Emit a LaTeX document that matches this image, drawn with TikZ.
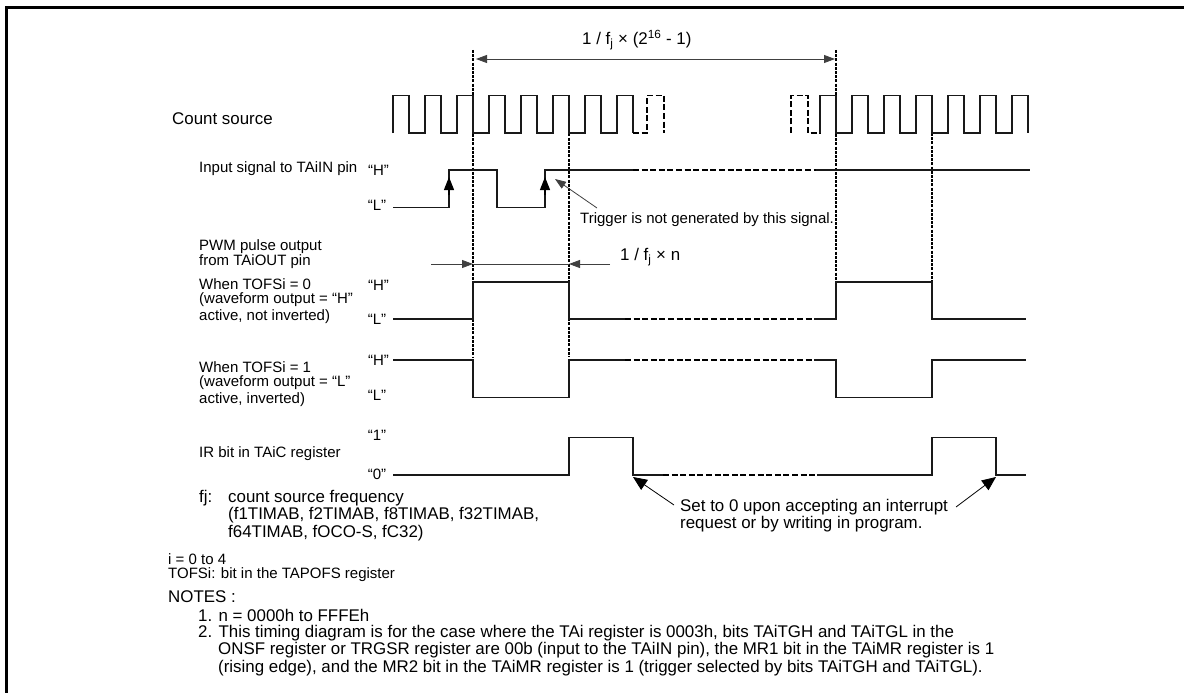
\documentclass[tikz,border=0pt]{standalone}
\usepackage{fontspec}
\setmainfont{Liberation Sans}
\usetikzlibrary{arrows.meta}
\tikzset{
  x=1pt,y=-1pt,
  wave/.style={line width=1.1pt,line join=miter,black!90},
  dashwave/.style={line width=1.6pt,dash pattern=on 6pt off 2.6pt,black},
  vdash/.style={line width=1.2pt,dash pattern=on 3pt off 1.2pt,black},
  dim/.style={line width=0.8pt,black!75},
  head/.style={-{Triangle[length=14pt,width=12pt]}},
  edgehead/.style={-{Triangle[length=13pt,width=10pt]}},
  small/.style={-{Triangle[length=11pt,width=8pt]}},
  lab/.style={anchor=west,inner sep=0pt,font=\fontsize{15}{18}\selectfont},
  lvl/.style={anchor=center,inner sep=0pt,font=\fontsize{15}{18}\selectfont},
  big/.style={anchor=west,inner sep=0pt,font=\fontsize{16.9}{20}\selectfont},
}
\begin{document}
\begin{tikzpicture}
\useasboundingbox (0,0) rectangle (1184,693);
\draw[line width=2.6pt] (6.3,693) -- (6.3,7.3) -- (1184,7.3);
% guides
\coordinate (a1) at (473,50); \coordinate (a2) at (473,357);
\coordinate (b1) at (569,95.5); \coordinate (b2) at (569,357);
\coordinate (c1) at (836,50); \coordinate (c2) at (836,282);
\coordinate (d1) at (932,133); \coordinate (d2) at (932,282);
\draw[vdash] (a1)--(a2); \draw[vdash] (b1)--(b2); \draw[vdash] (c1)--(c2); \draw[vdash] (d1)--(d2);
% count source
\draw[wave] (393,133)--(393,95.5)--(409,95.5)--(409,133)--(425,133)--(425,95.5)--(441,95.5)--(441,133)--(457,133)--(457,95.5)--(473,95.5)--(473,133)--(489,133)--(489,95.5)--(505,95.5)--(505,133)--(521,133)--(521,95.5)--(537,95.5)--(537,133)--(553,133)--(553,95.5)--(569,95.5)--(569,133)--(585,133)--(585,95.5)--(601,95.5)--(601,133)--(617,133)--(617,95.5)--(633,95.5)--(633,133);
\draw[dashwave] (633,133)--(647,133)--(647,95.5)--(664,95.5)--(664,133);
\draw[dashwave] (791,133)--(791,95.5)--(808,95.5)--(808,133)--(821,133);
\draw[wave] (820,133)--(820,95.5)--(836,95.5)--(836,133)--(852,133)--(852,95.5)--(868,95.5)--(868,133)--(884,133)--(884,95.5)--(900,95.5)--(900,133)--(916,133)--(916,95.5)--(932,95.5)--(932,133)--(948,133)--(948,95.5)--(964,95.5)--(964,133)--(980,133)--(980,95.5)--(996,95.5)--(996,133)--(1012,133)--(1012,95.5)--(1028,95.5)--(1028,133);
% input
\draw[wave] (393,207.5)--(449,207.5)--(449,170)--(497,170)--(497,207.5)--(545,207.5)--(545,170)--(633,170);
\draw[dashwave] (633,170)--(816,170);
\draw[wave] (816,170)--(1030,170);
\draw[line width=1.1pt,edgehead] (449,195)--(449,177);
\draw[line width=1.1pt,edgehead] (545,195)--(545,177);
% tofs0
\draw[wave] (393,319)--(473,319)--(473,282)--(569,282)--(569,319)--(625,319);
\draw[dashwave] (625,319)--(814,319);
\draw[wave] (814,319)--(836,319)--(836,282)--(932,282)--(932,319)--(1026,319);
% tofs1
\draw[wave] (393,360)--(473,360)--(473,397.5)--(569,397.5)--(569,360)--(625,360);
\draw[dashwave] (625,360)--(814,360);
\draw[wave] (814,360)--(836,360)--(836,397.5)--(932,397.5)--(932,360)--(1026,360);
% IR
\draw[wave] (393,475)--(569,475)--(569,437.5)--(633,437.5)--(633,475)--(663,475);
\draw[dashwave] (663,475)--(817,475);
\draw[wave] (817,475)--(932,475)--(932,437.5)--(996,437.5)--(996,475)--(1026,475);
% dimension arrows
\coordinate (t1) at (476,59); \coordinate (t2) at (835,59);
\draw[dim,{Triangle[length=11pt,width=8pt]}-{Triangle[length=11pt,width=8pt]}] (t1)--(t2);
\coordinate (n0) at (431,264); \coordinate (n1) at (473,264); \coordinate (n2) at (569,264); \coordinate (n3) at (610,264);
\draw[dim,small] (n0)--(n1);
\draw[dim] (n1)--(n2);
\draw[dim,small] (n3)--(n2);
\coordinate (tr1) at (597,208); \coordinate (tr2) at (555,179);
\draw[dim,small] (tr1)--(tr2);
\coordinate (s1) at (674,505); \coordinate (s2) at (633,477);
\draw[line width=0.8pt,head] (s1)--(s2);
\coordinate (r1) at (956,507); \coordinate (r2) at (996,477);
\draw[line width=0.8pt,head] (r1)--(r2);
% texts
\node[big] (tTop) at (582,40) {1 / f\textsubscript{j} × (2\textsuperscript{16} - 1)};
\node[big] (tN) at (620,257) {1 / f\textsubscript{j} × n};
\node[big] (tCount) at (172,119) {Count source};
\node[lab] (tInput) at (199,169) {Input signal to TAiIN pin};
\node[lvl] (l1) at (378.5,170) {“H”};
\node[lvl] (l2) at (377,205) {“L”};
\node[lab] (tTrig) at (580,220) {Trigger is not generated by this signal.};
\node[lab] (p1) at (199,247) {PWM pulse output};
\node[lab] (p2) at (199,262) {from TAiOUT pin};
\node[lab] (p3) at (199,284) {When TOFSi = 0};
\node[lab] (p4) at (199,300) {(waveform output = “H”};
\node[lab] (p5) at (199,317) {active, not inverted)};
\node[lvl] (l3) at (378.5,285) {“H”};
\node[lvl] (l4) at (377,319) {“L”};
\node[lvl] (l5) at (378.5,360) {“H”};
\node[lvl] (l6) at (377,395) {“L”};
\node[lab] (q1) at (199,367) {When TOFSi = 1};
\node[lab] (q2) at (199,383) {(waveform output = “L”};
\node[lab] (q3) at (199,400) {active, inverted)};
\node[lab] (ir) at (199,454) {IR bit in TAiC register};
\node[lvl] (l7) at (377,435) {“1”};
\node[lvl] (l8) at (377,474) {“0”};
\node[big] (f0) at (199,498) {fj:};
\node[big] (f1) at (228,498) {count source frequency};
\node[big] (f2) at (228,515) {(f1TIMAB, f2TIMAB, f8TIMAB, f32TIMAB,};
\node[big] (f3) at (228,533) {f64TIMAB, fOCO-S, fC32)};
\node[big] (s3) at (680,507) {Set to 0 upon accepting an interrupt};
\node[big] (s4) at (680,524) {request or by writing in program.};
\node[lab] (i1) at (168,559) {i = 0 to 4};
\node[lab] (i2) at (168,575) {TOFSi: bit in the TAPOFS register};
\node[big] (no) at (168,597) {NOTES :};
\node[big] (n11) at (198,615) {1. n = 0000h to FFFEh};
\node[big] (n12) at (198,633) {2. This timing diagram is for the case where the TAi register is 0003h, bits TAiTGH and TAiTGL in the};
\node[big] (n13) at (218,650) {ONSF register or TRGSR register are 00b (input to the TAiIN pin), the MR1 bit in the TAiMR register is 1};
\node[big] (n14) at (218,668) {(rising edge), and the MR2 bit in the TAiMR register is 1 (trigger selected by bits TAiTGH and TAiTGL).};
\end{tikzpicture}
\end{document}
